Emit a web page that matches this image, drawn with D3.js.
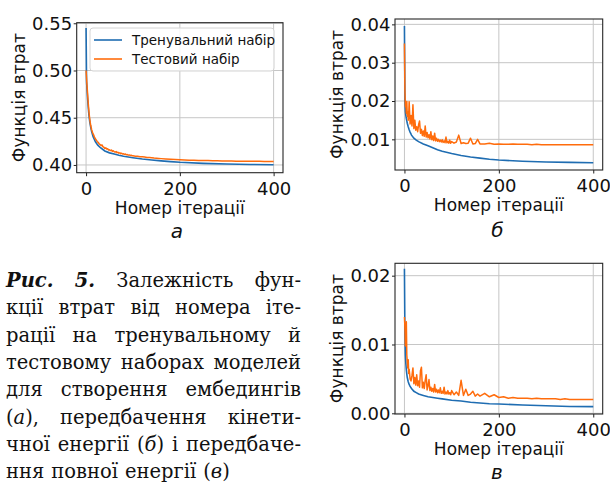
<!DOCTYPE html>
<html lang="uk">
<head>
<meta charset="utf-8">
<script src="https://cdn.jsdelivr.net/npm/d3@7"></script>
<style>
body { margin: 0; background: #fff; }
svg text { font-family: "DejaVu Sans", sans-serif; fill: #111; }
.axis path { display: none; }
.axis line { stroke: #222; stroke-width: 1; }
.axis text { font-size: 18px; }
.grid line { stroke: #c6c6c6; stroke-width: 1; }
.caption text { font-family: "DejaVu Serif", serif; font-size: 19.5px; }
</style>
</head>
<body>
<script>
// iterations
var iterSmooth = [0,1,2,3,4,5,6,8,10,12,15,20,25,30,40,50,60,70,80,100,120,140,160,180,200,250,300,350,400];
var iterFine = [0,1,2,3,4,5,6,7,8,9,10,12,14,16,18,20,22,24,26,28,30,32,34,36,38,40,42,44,46,48,50,
  52,54,56,58,60,62,64,66,68,70,72,74,76,78,80,82,84,86,88,90,92,94,96,98,100,
  105,110,115,120,125,130,135,140,145,150,155,160,
  170,180,190,200,210,220,230,240,250,260,270,280,290,300,310,320,330,340,350,360,370,380,390,400];

// (а) embeddings
var trainA = [0.545,0.488,0.480,0.472,0.465,0.459,0.453,0.445,0.4395,0.435,0.430,0.4245,0.421,0.4185,0.4148,
  0.4128,0.4115,0.4103,0.4093,0.4077,0.4063,0.4052,0.4043,0.4035,0.4028,0.4017,0.4010,0.4005,0.4002];
var testA = [0.500,0.492,0.484,0.477,0.470,0.463,0.457,0.452,0.448,0.4445,0.4415,
  0.437,0.434,0.4318,0.4295,0.4275,0.4262,0.4245,0.4238,0.4222,0.4215,
  0.4205,0.4212,0.4192,0.4188,0.4175,0.4182,0.4168,0.4171,0.4158,0.4160,
  0.4152,0.4158,0.4145,0.4150,0.4140,0.4136,0.4142,0.4130,0.4134,0.4125,
  0.4128,0.4120,0.4124,0.4116,0.4118,0.4112,0.4115,0.4108,0.4110,0.4104,
  0.4106,0.4101,0.4103,0.4098,0.4097,
  0.4093,0.4091,0.4088,0.4086,0.4083,0.4080,0.4078,0.4076,0.4073,0.4071,0.4069,0.4067,
  0.4063,0.4060,0.4058,0.4055,0.4053,0.4051,0.4049,0.4048,0.4047,0.4046,0.4045,0.4044,
  0.4043,0.4042,0.4041,0.4040,0.4040,0.4039,0.4039,0.4038,0.4038,0.4037,0.4037,0.4037];

// (б) kinetic energy
var trainB = [0.0396,0.0200,0.0172,0.0162,0.0154,0.0148,0.0142,0.0133,0.0125,0.0119,0.0111,0.0103,0.0098,0.0094,0.0088,
  0.0083,0.0078,0.0073,0.0069,0.0063,0.0058,0.0054,0.0051,0.0048,0.0046,0.0043,0.0041,0.0040,0.0039];
var testB = [0.0350,0.0229,0.0185,0.0196,0.0168,0.0199,0.0160,0.0172,0.0150,0.0163,0.0198,
  0.0140,0.0162,0.0135,0.0190,0.0128,0.0150,0.0124,0.0133,0.0120,0.0138,
  0.0148,0.0116,0.0126,0.0110,0.0122,0.0108,0.0135,0.0106,0.0118,0.0104,
  0.0112,0.0101,0.0120,0.0099,0.0109,0.0097,0.0116,0.0096,0.0103,0.0095,
  0.0100,0.0094,0.0098,0.0093,0.0099,0.0092,0.0096,0.0091,0.0106,0.0091,
  0.0095,0.0090,0.0098,0.0090,0.0094,
  0.0090,0.0093,0.0111,0.0089,0.0091,0.0089,0.0090,0.0103,0.0088,0.0089,0.0100,0.0088,
  0.0088,0.0090,0.0087,0.0088,0.0087,0.0087,0.0088,0.0087,0.0087,0.0087,0.0086,0.0087,
  0.0086,0.0086,0.0086,0.0086,0.0086,0.0086,0.0086,0.0086,0.0086,0.0086,0.0086,0.0086];

// (в) total energy
var trainC = [0.0210,0.0115,0.0085,0.0072,0.0063,0.0057,0.0052,0.0046,0.0042,0.0039,0.0036,0.0032,0.0030,0.0028,0.0026,
  0.0024,0.0023,0.0022,0.0021,0.0019,0.0018,0.0016,0.0015,0.0014,0.00135,0.0012,0.0011,0.0010,0.00097];
var testC = [0.0140,0.0125,0.0098,0.0120,0.0133,0.0085,0.0075,0.0066,0.0078,0.0058,0.0064,
  0.0050,0.0047,0.0055,0.0066,0.0043,0.0052,0.0041,0.0056,0.0040,0.0047,
  0.0038,0.0062,0.0067,0.0037,0.0045,0.0036,0.0048,0.0056,0.0034,0.0040,
  0.0049,0.0033,0.0038,0.0032,0.0036,0.0031,0.0042,0.0031,0.0035,0.0030,
  0.0034,0.0030,0.0037,0.0029,0.0032,0.0029,0.0038,0.0028,0.0031,0.0028,
  0.0033,0.0028,0.0030,0.0027,0.0033,
  0.0027,0.0031,0.0026,0.0048,0.0026,0.0035,0.0026,0.0028,0.0032,0.0025,0.0028,0.0025,
  0.0029,0.0024,0.0027,0.0023,0.0024,0.0022,0.0023,0.0022,0.0022,0.0022,0.0021,0.0022,
  0.0021,0.0021,0.0021,0.0021,0.0020,0.0021,0.0020,0.0020,0.0020,0.0020,0.0020,0.0020];

var xTicks = [0, 200, 400];
var yTicksA = [0.40, 0.45, 0.50, 0.55];
var yTicksB = [0.01, 0.02, 0.03, 0.04];
var yTicksC = [0.00, 0.01, 0.02];
var legendLabels = ["Тренувальний набір", "Тестовий набір"];
var xTitle = "Номер ітерації";
var yTitle = "Функція втрат";

var captionLines = [
  "**Рис.** **5.** Залежність фун-",
  "кції втрат від номера іте-",
  "рації на тренувальному й",
  "тестовому наборах моделей",
  "для створення ембедингів",
  "(_а_), передбачення кінети-",
  "чної енергії (_б_) і передбаче-",
  "ння повної енергії (_в_)"
];

var blue = "#1f6db2", orange = "#ff6c0c";

var svg = d3.select("body").append("svg")
  .attr("width", 610).attr("height", 483);

var panels = [
  {left: 76.7, right: 283, top: 22.7, bottom: 172.7, yDomain: [0.3918, 0.5506], yTicks: yTicksA,
   train: trainA, test: testA, letter: "а", letterX: 177, letterY: 238, legend: true},
  {left: 395, right: 602.7, top: 19, bottom: 170, yDomain: [0.0020, 0.0414], yTicks: yTicksB,
   train: trainB, test: testB, letter: "б", letterX: 497.5, letterY: 237},
  {left: 395, right: 602.7, top: 263.3, bottom: 414, yDomain: [-0.0001, 0.0218], yTicks: yTicksC,
   train: trainC, test: testC, letter: "в", letterX: 497, letterY: 478.5}
];

panels.forEach(function(p, i) {
  var x = d3.scaleLinear().domain([-20, 420]).range([p.left, p.right]);
  var y = d3.scaleLinear().domain(p.yDomain).range([p.bottom, p.top]);
  var g = svg.append("g");

  // grid
  var grid = g.append("g").attr("class", "grid");
  grid.selectAll(".gx").data(xTicks).enter().append("line")
    .attr("x1", function(d) { return x(d); }).attr("x2", function(d) { return x(d); })
    .attr("y1", p.top).attr("y2", p.bottom);
  grid.selectAll(".gy").data(p.yTicks).enter().append("line")
    .attr("y1", function(d) { return y(d); }).attr("y2", function(d) { return y(d); })
    .attr("x1", p.left).attr("x2", p.right);

  // lines
  var clipId = "clip" + i;
  g.append("clipPath").attr("id", clipId).append("rect")
    .attr("x", p.left).attr("y", p.top)
    .attr("width", p.right - p.left).attr("height", p.bottom - p.top);

  var line = d3.line().x(function(d) { return x(d[0]); }).y(function(d) { return y(d[1]); });
  var lines = g.append("g").attr("clip-path", "url(#" + clipId + ")");
  lines.append("path").datum(d3.zip(iterSmooth, p.train))
    .attr("d", line).attr("fill", "none").attr("stroke", blue).attr("stroke-width", 1.6);
  lines.append("path").datum(d3.zip(iterFine, p.test))
    .attr("d", line).attr("fill", "none").attr("stroke", orange).attr("stroke-width", 1.5)
    .attr("stroke-linejoin", "round");

  // axes
  g.append("g").attr("class", "axis")
    .attr("transform", "translate(0," + p.bottom + ")")
    .call(d3.axisBottom(x).tickValues(xTicks).tickSize(3.5).tickPadding(6).tickFormat(d3.format("d")));
  g.append("g").attr("class", "axis")
    .attr("transform", "translate(" + p.left + ",0)")
    .call(d3.axisLeft(y).tickValues(p.yTicks).tickSize(3).tickPadding(1.5).tickFormat(d3.format(".2f")));

  // frame
  g.append("rect")
    .attr("x", p.left).attr("y", p.top)
    .attr("width", p.right - p.left).attr("height", p.bottom - p.top)
    .attr("fill", "none").attr("stroke", "#262626").attr("stroke-width", 1.1);

  // titles
  g.append("text")
    .attr("x", (p.left + p.right) / 2).attr("y", p.bottom + 41)
    .attr("text-anchor", "middle").style("font-size", "17px")
    .text(xTitle);
  g.append("text")
    .attr("transform", "translate(" + (p.left - 52) + "," + ((p.top + p.bottom) / 2) + ") rotate(-90)")
    .attr("text-anchor", "middle").style("font-size", "17px")
    .text(yTitle);
  g.append("text")
    .attr("x", p.letterX).attr("y", p.letterY)
    .attr("text-anchor", "middle").style("font-size", "20px").style("font-style", "italic")
    .text(p.letter);

  if (p.legend) {
    var lg = g.append("g");
    lg.append("rect").attr("x", 90).attr("y", 28).attr("width", 184).attr("height", 43)
      .attr("rx", 3).attr("fill", "#fff").attr("fill-opacity", 0.85)
      .attr("stroke", "#d4d4d4");
    [blue, orange].forEach(function(c, k) {
      var ly = 40 + k * 19;
      lg.append("line").attr("x1", 94).attr("x2", 122).attr("y1", ly).attr("y2", ly)
        .attr("stroke", c).attr("stroke-width", 1.6);
      lg.append("text").attr("x", 132).attr("y", ly + 4.8)
        .style("font-size", "13.5px").text(legendLabels[k]);
    });
  }
});

// caption, justified like the source text
var cap = svg.append("g").attr("class", "caption");
var capLeft = 6, capRight = 301, capTop = 287, capStep = 27.3;
captionLines.forEach(function(ln, i) {
  var yb = capTop + i * capStep;
  var words = ln.split(" ");
  var nodes = words.map(function(w) {
    var t = cap.append("text").attr("y", yb);
    w.split(/(\*\*[^*]+\*\*|_[^_]+_)/).filter(function(s) { return s; }).forEach(function(seg) {
      var ts = t.append("tspan");
      if (seg.indexOf("**") === 0) {
        ts.text(seg.slice(2, -2)).style("font-weight", "bold").style("font-style", "italic");
      } else if (seg.charAt(0) === "_" && seg.length > 2) {
        ts.text(seg.slice(1, -1)).style("font-style", "italic");
      } else {
        ts.text(seg);
      }
    });
    return t;
  });
  var widths = nodes.map(function(n) { return n.node().getComputedTextLength(); });
  var last = i === captionLines.length - 1;
  var gap = last ? 7 : Math.max(4, (capRight - capLeft - d3.sum(widths)) / (words.length - 1));
  var xx = capLeft;
  nodes.forEach(function(n, k) { n.attr("x", xx); xx += widths[k] + gap; });
});
</script>
</body>
</html>
